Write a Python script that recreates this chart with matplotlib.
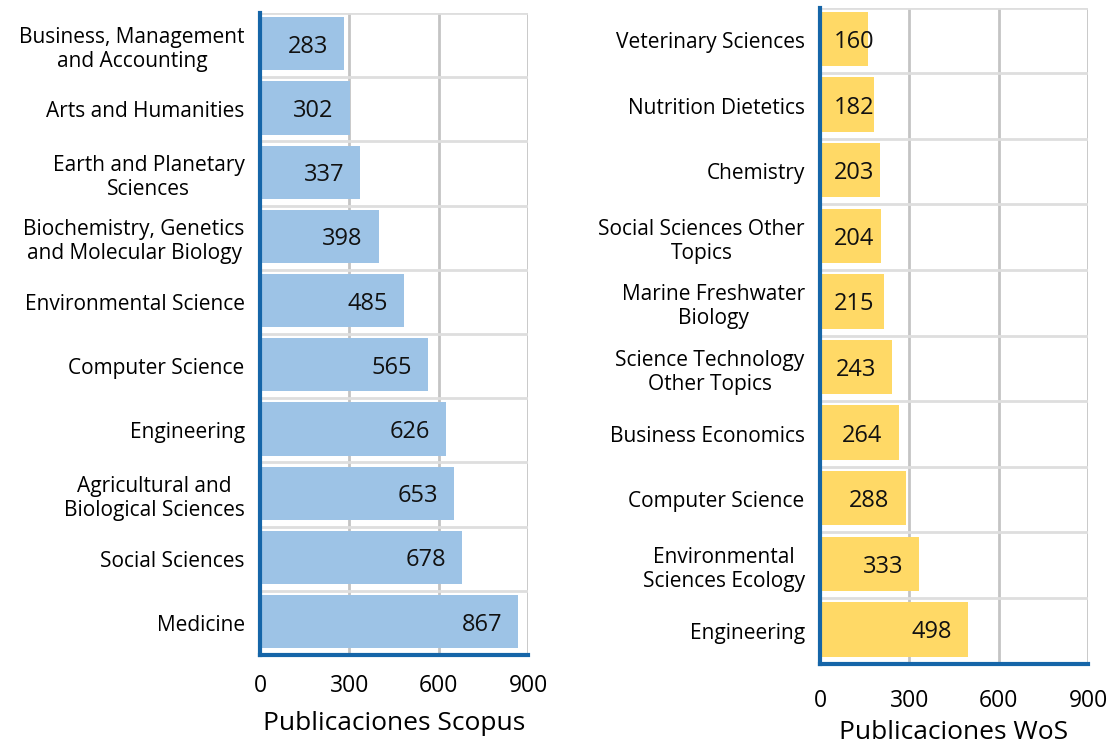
import matplotlib
matplotlib.use("Agg")
import matplotlib.pyplot as plt
import numpy as np

plt.rcParams['font.family'] = ['Open Sans', 'DejaVu Sans']

scopus_cats = ["Business, Management\nand Accounting", "Arts and Humanities",
               "Earth and Planetary\nSciences", "Biochemistry, Genetics\nand Molecular Biology",
               "Environmental Science", "Computer Science", "Engineering",
               "Agricultural and\nBiological Sciences", "Social Sciences", "Medicine"]
scopus_vals = [283, 302, 337, 398, 485, 565, 626, 653, 678, 867]

wos_cats = ["Veterinary Sciences", "Nutrition Dietetics", "Chemistry",
            "Social Sciences Other\nTopics", "Marine Freshwater\nBiology",
            "Science Technology\nOther Topics", "Business Economics", "Computer Science",
            "Environmental\nSciences Ecology", "Engineering"]
wos_vals = [160, 182, 203, 204, 215, 243, 264, 288, 333, 498]

xticks = [0, 300, 600, 900]

W, H = 1115, 744
fig = plt.figure(figsize=(W / 100, H / 100), dpi=100)

spine_col = "#1565A8"

def panel(rect, cats, vals, color, title, xpad, lpad):
    ax = fig.add_axes(rect)
    n = len(cats)
    y = np.arange(n)[::-1]
    ax.barh(y + 0.02, vals, height=0.83, color=color, zorder=2)
    ax.set_ylim(-0.5, n - 0.5)
    ax.set_xlim(0, 900)
    ax.set_xticks(xticks)
    ax.set_xticklabels([str(t) for t in xticks], fontsize=16.5)
    ax.set_yticks(y)
    ax.set_yticklabels(cats, fontsize=15, multialignment='center', linespacing=1.2)
    ax.set_yticks(np.arange(-0.5, n, 1.0), minor=True)
    ax.tick_params(axis='both', which='both', length=0)
    ax.tick_params(axis='y', pad=11)
    ax.tick_params(axis='x', pad=xpad)
    ax.grid(axis='x', which='major', color='#c4c4c4', lw=2, zorder=0)
    ax.grid(axis='y', which='minor', color='#dedede', lw=2, zorder=0)
    ax.grid(axis='y', which='major', visible=False)
    for s in ['top', 'right']:
        ax.spines[s].set_visible(False)
    for s in ['left', 'bottom']:
        ax.spines[s].set_color(spine_col)
        ax.spines[s].set_linewidth(3)
        ax.spines[s].set_zorder(3)
    for yi, v in zip(y, vals):
        ax.text(max(v - 122, 115), yi + 0.02, str(v), ha='center', va='center_baseline',
                fontsize=17, color='#111111', zorder=4)
    ax.set_xlabel(title, fontsize=19, labelpad=lpad)
    return ax

panel([260 / W, 1 - 655 / H, 268 / W, 642 / H], scopus_cats, scopus_vals, "#9DC3E6",
      "Publicaciones Scopus", 14, 9)
panel([820 / W, 1 - 663.5 / H, 268 / W, 656 / H], wos_cats, wos_vals, "#FFD966",
      "Publicaciones WoS", 18.5, 5)

fig.savefig("out.png", dpi=100)
